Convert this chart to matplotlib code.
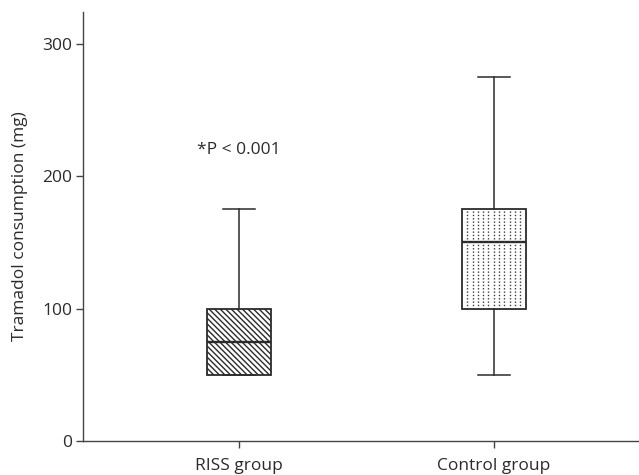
import matplotlib
matplotlib.use('Agg')
import matplotlib.pyplot as plt
import numpy as np

# data
groups = ['RISS group', 'Control group']
q1 = [50, 100]
med = [75, 150]
q3 = [100, 175]
whis_lo = [50, 50]
whis_hi = [175, 275]
yticks = [0, 100, 200, 300]
ylabel = 'Tramadol consumption (mg)'
note = '*P < 0.001'
note_y = 220

ink = '#2b2b2b'
plt.rcParams['font.family'] = ['Open Sans', 'DejaVu Sans']
plt.rcParams['hatch.linewidth'] = 1.0

fig = plt.figure(figsize=(6.39, 4.75), dpi=100)
ax = fig.add_axes([0.13, 0.0716, 0.87, 0.903])

stats = []
for i, g in enumerate(groups):
    stats.append(dict(label=g, q1=q1[i], med=med[i], q3=q3[i],
                      whislo=whis_lo[i], whishi=whis_hi[i], fliers=[]))

pos = [1, 2]
bp = ax.bxp(stats, positions=pos, widths=0.25, capwidths=0.125,
            showfliers=False, patch_artist=True,
            boxprops=dict(facecolor='white', edgecolor=ink, linewidth=1.3),
            medianprops=dict(color=ink, linewidth=1.7),
            whiskerprops=dict(color=ink, linewidth=1.1),
            capprops=dict(color=ink, linewidth=1.1))

# RISS: dense diagonal hatch
bp['boxes'][0].set_hatch('\\' * 6)
bp['boxes'][0].set_edgecolor(ink)

# Control: vertical dotted fill
box = bp['boxes'][1]
verts = box.get_path().vertices
x0, x1 = verts[:, 0].min(), verts[:, 0].max()
xs = np.linspace(x0, x1, 13)[1:-1]
ax.vlines(xs, q1[1], q3[1], colors='#3a3a3a', linewidth=1.0,
          linestyles=(0, (1.0, 1.4)), zorder=2.5)

ax.text(pos[0], note_y, note, ha='center', va='center', fontsize=12.5, color=ink)

ax.set_xlim(0.388, 2.57)
ax.set_ylim(0, 324)
ax.set_yticks(yticks)
ax.set_xticks(pos)
ax.set_xticklabels(groups)
ax.set_ylabel(ylabel, fontsize=12.5, color=ink, labelpad=10)

for s in ['top', 'right']:
    ax.spines[s].set_visible(False)
for s in ['left', 'bottom']:
    ax.spines[s].set_color('#444444')
    ax.spines[s].set_linewidth(1.0)
ax.tick_params(axis='both', length=5, width=1.0, color='#444444',
               labelsize=12.5, labelcolor=ink, pad=3)
ax.tick_params(axis='x', pad=7)

fig.savefig('out.png', dpi=100)
